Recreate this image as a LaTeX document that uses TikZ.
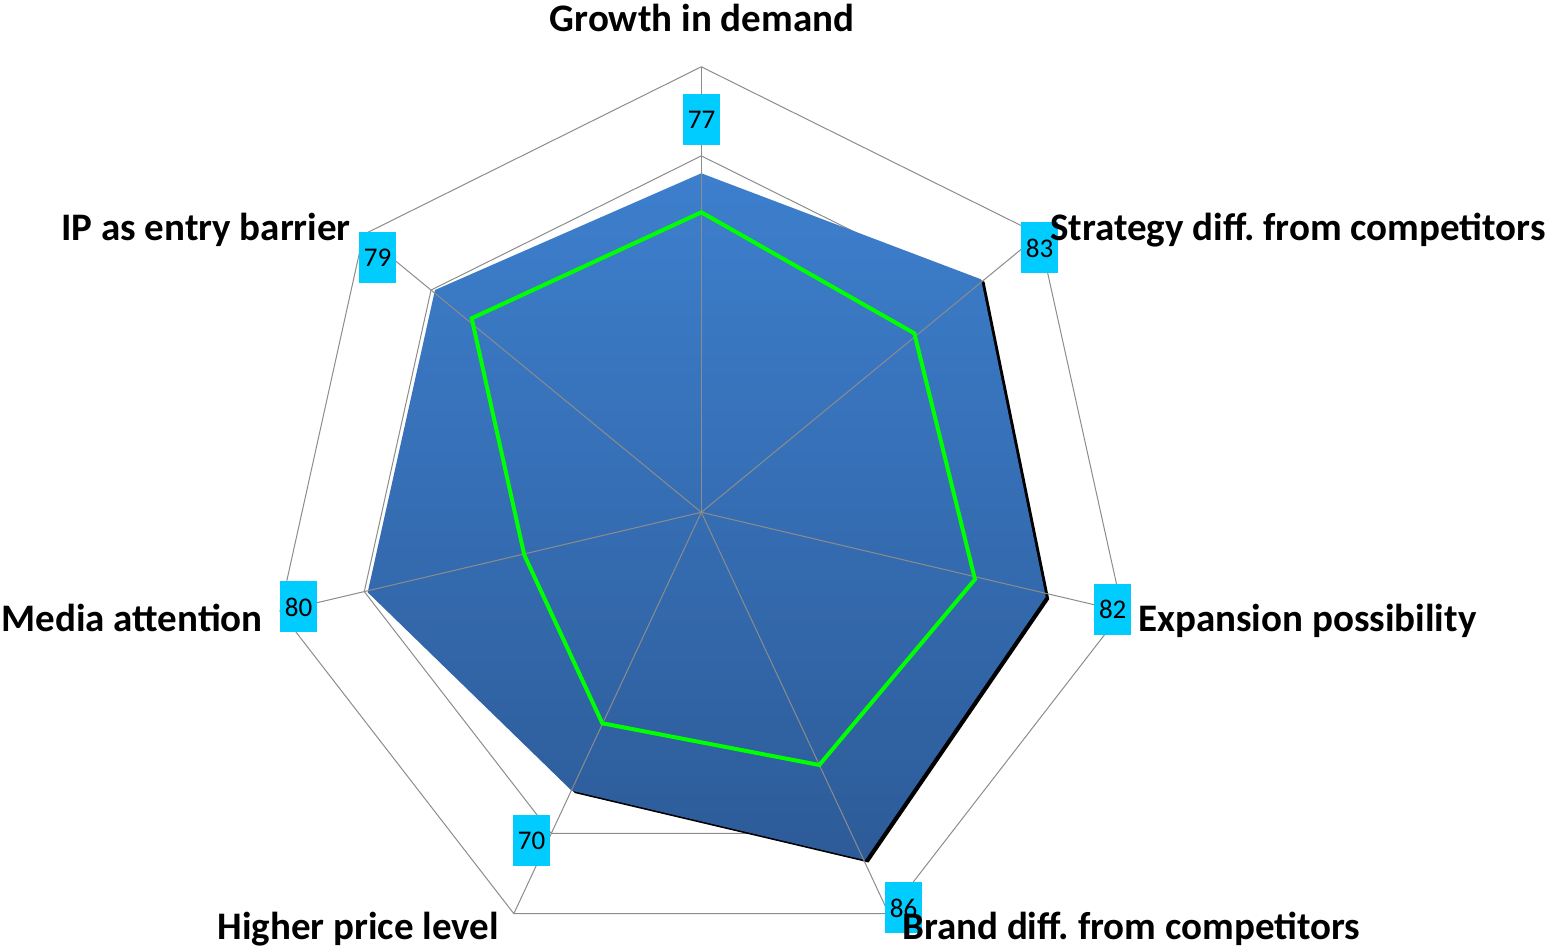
\documentclass[tikz,border=0pt]{standalone}
\usepackage{fontspec}
\setmainfont{Carlito}
\frenchspacing
\definecolor{valcyan}{HTML}{00CCFF}
\definecolor{gridgray}{HTML}{8C8C8C}
\definecolor{bluetop}{HTML}{3D7FCD}
\definecolor{bluebot}{HTML}{2D5B98}
\definecolor{linegreen}{HTML}{00FF00}
\begin{document}
\begin{tikzpicture}[x=1pt,y=1pt,
  cat/.style={font=\fontsize{39}{41}\selectfont\bfseries, inner sep=0pt},
  val/.style={fill=valcyan, minimum width=37pt, minimum height=51pt, inner sep=0pt, font=\fontsize{27}{29}\selectfont},
  gridline/.style={draw=gridgray, line width=1pt},
  series/.style={draw=linegreen, line width=4pt},
]
\useasboundingbox (0,0) rectangle (1546,952);
\coordinate (c) at (701.3,439.7);
\begin{scope}[shift={(701.3,439.7)}, xscale=0.97]
  \foreach \i in {0,...,6} {
    \coordinate (o\i) at ({90-\i*360/7}:445.5);
    \coordinate (m\i) at ({90-\i*360/7}:356.4);
  }
\end{scope}
% rings
\draw[gridline] (o0) -- (o1) -- (o2) -- (o3) -- (o4) -- (o5) -- (o6) -- cycle;
\draw[gridline] (m0) -- (m1) -- (m2) -- (m3) -- (m4) -- (m5) -- (m6) -- cycle;
% blue series points
\coordinate (b0) at (701.3,778.7);
\coordinate (b1) at (981,672.7);
\coordinate (b2) at (1045.7,355.3);
\coordinate (b3) at (865,92);
\coordinate (b4) at (571.7,161.3);
\coordinate (b5) at (367.7,359.7);
\coordinate (b6) at (435,662);
% shadow
\fill[black] ([xshift=3.5pt,yshift=-2.5pt]b0) -- ([xshift=3.5pt,yshift=-2.5pt]b1) -- ([xshift=3.5pt,yshift=-2.5pt]b2) -- ([xshift=3.5pt,yshift=-2.5pt]b3) -- ([xshift=3.5pt,yshift=-2.5pt]b4) -- ([xshift=3.5pt,yshift=-2.5pt]b5) -- ([xshift=3.5pt,yshift=-2.5pt]b6) -- cycle;
\shade[top color=bluetop, bottom color=bluebot] (b0) -- (b1) -- (b2) -- (b3) -- (b4) -- (b5) -- (b6) -- cycle;
% spokes
\foreach \i in {0,...,6} { \draw[gridline] (c) -- (o\i); }
% green series
\coordinate (g0) at (701.3,739.7);
\coordinate (g1) at (914.3,618.7);
\coordinate (g2) at (975,372.7);
\coordinate (g3) at (819.3,187);
\coordinate (g4) at (602.3,228.7);
\coordinate (g5) at (524.3,397);
\coordinate (g6) at (471.7,633.7);
\draw[series] (g0) -- (g1) -- (g2) -- (g3) -- (g4) -- (g5) -- (g6) -- cycle;
% value labels
\node[val] (v0) at (701.5,832.5) {77};
\node[val] (v1) at (1039.5,704) {83};
\node[val] (v2) at (1112.7,342.5) {82};
\node[val] (v3) at (903.5,44) {86};
\node[val] (v4) at (531.5,111.5) {70};
\node[val] (v5) at (298.5,345) {80};
\node[val] (v6) at (377.5,694) {79};
% category labels
\node[cat, anchor=base] (l0) at (702,920) {Growth in demand};
\node[cat, anchor=base west] (l1) at (1050,711) {Strategy diff. from competitors};
\node[cat, anchor=base west] (l2) at (1138,320) {Expansion possibility};
\node[cat, anchor=base west] (l3) at (902,12) {Brand diff. from competitors};
\node[cat, anchor=base east] (l4) at (499,12) {Higher price level};
\node[cat, anchor=base east] (l5) at (263,320) {Media attention};
\node[cat, anchor=base east] (l6) at (351,711) {IP as entry barrier};
\end{tikzpicture}
\end{document}
